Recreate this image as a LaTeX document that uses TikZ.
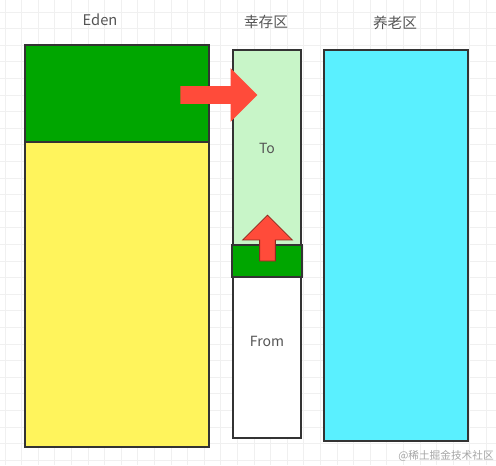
\documentclass[tikz,border=0pt]{standalone}
\usepackage{fontspec}
\setmainfont{Noto Sans CJK SC}
\usepackage{xcolor}
\definecolor{YoungGreen}{HTML}{00A600}
\definecolor{EdenYellow}{HTML}{FFF45C}
\definecolor{SurviveGreen}{HTML}{C8F5C8}
\definecolor{OldCyan}{HTML}{5AF0FF}
\definecolor{PushRed}{HTML}{FF4B3A}
\definecolor{EdgeGray}{HTML}{333333}
\definecolor{LabelGray}{HTML}{555555}
\usepackage{tikz}
\usetikzlibrary{shapes.arrows, positioning}
\tikzset{
  % Box styles
  heapbox/.style={rectangle, draw=EdgeGray, line width=1.1pt, inner sep=0pt, outer sep=0pt},
  % Text styles
  headlabel/.style={font=\fontsize{11}{13}\selectfont, text=LabelGray},
  boxlabel/.style={font=\fontsize{10.5}{12}\selectfont, text=LabelGray},
  % Arrow styles
  pusharrow/.style={single arrow, fill=PushRed, draw=none, single arrow head indent=0pt}
}

\begin{document}
\begin{tikzpicture}[x=0.75pt, y=-0.75pt]
  \useasboundingbox (0,0) rectangle (496,465);
  \fill[white] (0,0) rectangle (496,465);

  % Background grid
  \foreach \gx in {5,21.6,...,496} \draw[black!6, line width=0.6pt] (\gx,0) -- (\gx,465);
  \foreach \gy in {12,28.6,...,465} \draw[black!6, line width=0.6pt] (0,\gy) -- (496,\gy);

  % Headings
  \node[headlabel] (edenhead) at (100,20) {Eden};
  \node[headlabel] (survhead) at (266,22) {幸存区};
  \node[headlabel] (oldhead) at (395,23) {养老区};

  % Eden
  \node[heapbox, fill=EdenYellow, minimum width=138pt, minimum height=228.75pt] (edenfree) at (117,294.5) {};
  \node[heapbox, fill=YoungGreen, minimum width=138pt, minimum height=72.75pt] (edenused) at (117,93.5) {};

  % Survivor spaces
  \node[heapbox, fill=white, minimum width=51pt, minimum height=120.75pt] (frombox) at (267,357.5) {};
  \node[heapbox, fill=SurviveGreen, minimum width=51pt, minimum height=146.25pt] (tobox) at (267,147.5) {};
  \node[heapbox, fill=YoungGreen, minimum width=52.5pt, minimum height=24pt] (fromused) at (267,261) {};
  \node[boxlabel] (tolabel) at (267,148) {To};
  \node[boxlabel] (fromlabel) at (267,341) {From};

  % Old generation
  \node[heapbox, fill=OldCyan, minimum width=108pt, minimum height=293.25pt] (oldbox) at (396,245.5) {};

  % Arrows
  \node[pusharrow, minimum height=57.75pt, inner xsep=0pt, inner ysep=6.375pt, single arrow head extend=13.5pt] (edentoto) at (214.5,95) {};
  \node[pusharrow, draw=PushRed!55!black, line width=0.6pt, shape border rotate=90, minimum height=34.5pt, inner xsep=5.6pt, inner ysep=0pt, single arrow head extend=12.75pt] (fromtoto) at (267.5,242) {};

  % Watermark
  \node[font=\fontsize{8}{10}\selectfont, text=black!35] (mark) at (446,456) {@稀土掘金技术社区};
\end{tikzpicture}
\end{document}
